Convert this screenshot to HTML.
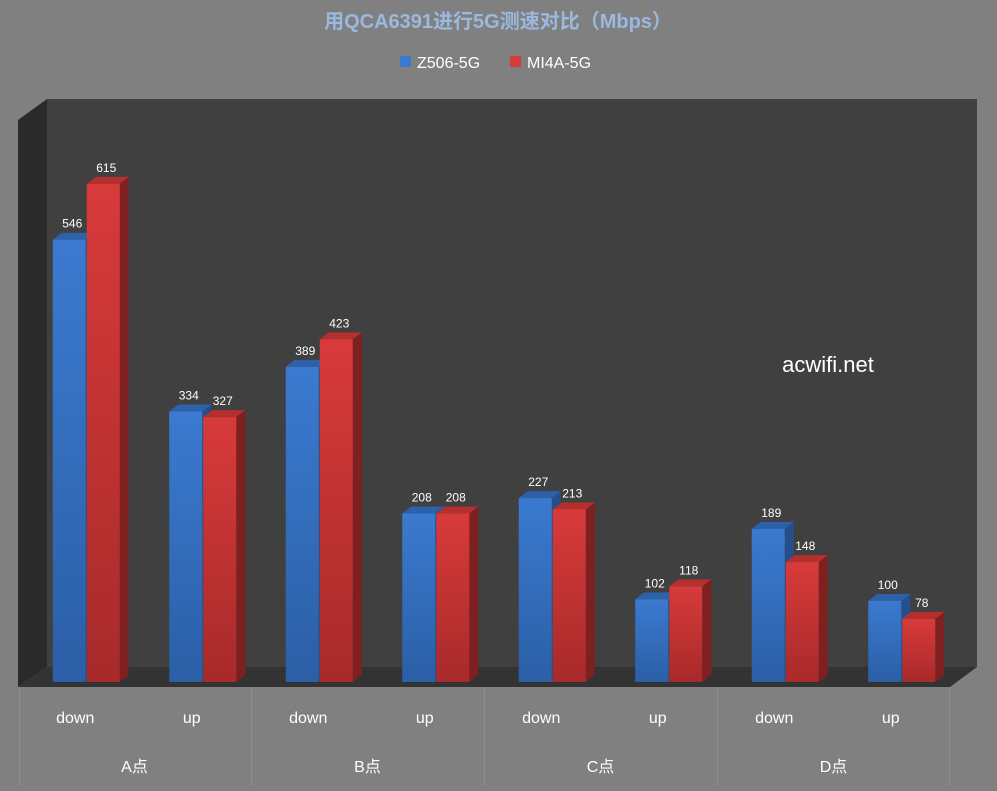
<!DOCTYPE html>
<html><head><meta charset="utf-8"><style>
body{margin:0;background:#808080;width:997px;height:786px;overflow:hidden;font-family:"Liberation Sans","Noto Sans CJK SC",sans-serif}
</style></head><body>
<svg width="997" height="786" xmlns="http://www.w3.org/2000/svg">
<defs>
<linearGradient id="gb" x1="0" y1="0" x2="0" y2="1"><stop offset="0" stop-color="#3b7ad0"/><stop offset="1" stop-color="#2b5fa6"/></linearGradient>
<linearGradient id="gr" x1="0" y1="0" x2="0" y2="1"><stop offset="0" stop-color="#d83a3a"/><stop offset="1" stop-color="#a82a2a"/></linearGradient>
</defs>
<rect width="997" height="786" fill="#808080"/>
<text x="498" y="28" text-anchor="middle" font-size="20" font-weight="bold" fill="#9bb8e0">用QCA6391进行5G测速对比（Mbps）</text>
<g>
<rect x="400" y="56" width="11" height="11" fill="#3b7ad0"/>
<text x="417" y="68" font-size="16" fill="#fff">Z506-5G</text>
<rect x="510" y="56" width="11" height="11" fill="#d83a3a"/>
<text x="527" y="68" font-size="16" fill="#fff">MI4A-5G</text>
</g>
<polygon points="47,99 977,99 977,667 47,667" fill="#404040"/>
<polygon points="18,120 47,99 47,667 18,687" fill="#2a2a2a"/>
<polygon points="47,667 977,667 950,687 18,687" fill="#333"/>
<text x="828" y="372" text-anchor="middle" font-size="22" fill="#fff">acwifi.net</text>
<g id="bars"></g>
<g>
<line x1="19.5" y1="687" x2="19.5" y2="786" stroke="#8c8c8c"/>
<line x1="251.5" y1="687" x2="251.5" y2="786" stroke="#8c8c8c"/>
<line x1="484.5" y1="687" x2="484.5" y2="786" stroke="#8c8c8c"/>
<line x1="717.5" y1="687" x2="717.5" y2="786" stroke="#8c8c8c"/>
<line x1="949.5" y1="687" x2="949.5" y2="786" stroke="#8c8c8c"/>
<g id="xlabels"></g>
</g>
</svg>
<script>
const categories=["down","up","down","up","down","up","down","up"];
const groups=["A点","B点","C点","D点"];
const z506=[546,334,389,208,227,102,189,100];
const mi4a=[615,327,423,208,213,118,148,78];
const NS="http://www.w3.org/2000/svg";
const baseY=682, scale=0.81, x0=18, catW=116.5, bw=33, dx=9, dy=7;
function yv(v){return baseY-v*scale;}
function xc(i){return x0+catW*(i+0.5)+10;}
const bars=document.getElementById('bars');
function mk(tag,attrs,parent){const e=document.createElementNS(NS,tag);for(const k in attrs)e.setAttribute(k,attrs[k]);parent.appendChild(e);return e;}
function bar(x,v,fill,top,side,name){
  const g=mk('g',{},bars);
  
  
  const y=yv(v);
  mk('polygon',{points:`${x+bw},${y} ${x+bw+dx},${y-dy} ${x+bw+dx},${baseY-dy} ${x+bw},${baseY}`,fill:side},g);
  mk('polygon',{points:`${x},${y} ${x+dx},${y-dy} ${x+bw+dx},${y-dy} ${x+bw},${y}`,fill:top},g);
  mk('rect',{x:x,y:y,width:bw,height:baseY-y,fill:fill},g);
  const t=mk('text',{x:x+bw/2+3,y:y-12,'text-anchor':'middle','font-size':12,fill:'#fff'},g);
  t.textContent=v;
}
categories.forEach((c,i)=>{
  const cx=xc(i);
  bar(cx-bw-0.5,z506[i],'url(#gb)','#2d62ab','#244f8a','bar-z506-'+i);
  bar(cx+0.5,mi4a[i],'url(#gr)','#b52f2f','#7f2020','bar-mi4a-'+i);
});
const xl=document.getElementById('xlabels');
categories.forEach((c,i)=>{
  const t=mk('text',{x:x0+catW*(i+0.5)-1,y:723,'text-anchor':'middle','font-size':16,fill:'#fff'},xl);
  
  
  t.textContent=c;
});
groups.forEach((g,i)=>{
  const t=mk('text',{x:x0+catW*(2*i+1),y:772,'text-anchor':'middle','font-size':16,fill:'#fff'},xl);
  
  
  t.textContent=g;
});
</script>
</body></html>
